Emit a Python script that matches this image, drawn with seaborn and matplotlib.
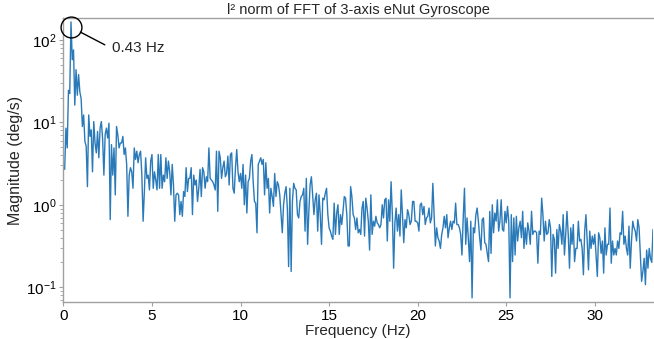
import numpy as np
import pandas as pd
import matplotlib
matplotlib.use("Agg")
import matplotlib.pyplot as plt
import seaborn as sns

# ---------------- data ----------------
FREQ_STEP_HZ = 1 / 14          # FFT bin spacing
# log10 of magnitude (deg/s), per frequency band, bin by bin
log_mag_0_to_6hz = [
    0.43, 0.93, 0.69, 1.39, 1.35, 2.22, 1.76, 1.88, 1.21, 1.64,
    1.33, 1.58, 1.37, 1.29, 0.95, 1.09, 0.77, 0.71, 0.22, 1.09,
    0.83, 0.91, 0.40, 1.01, 0.75, 0.63, 0.89, 0.57, 0.93, 1.01,
    0.80, 0.36, 0.85, 0.93, 0.81, 0.99, -0.18, 0.73, 0.36, 0.69,
    0.12, 0.95, 0.85, 0.69, 0.75, 0.75, 0.83, 0.61, 0.69, 0.49,
    -0.14, 0.36, 0.45, 0.40, 0.20, 0.69, 0.55, 0.65, 0.51, 0.61,
    0.65, 0.36, -0.20, 0.16, 0.57, 0.32, 0.36, 0.18, 0.53, 0.61,
    0.20, 0.40, 0.30, 0.18, 0.61, 0.20, 0.61, 0.20, 0.36, 0.28,
    0.57, 0.32, 0.53, 0.40, 0.12, 0.49, 0.24, -0.20, 0.12, 0.14,
    0.12, -0.12,
]
log_mag_6_to_13hz = [
    0.04, -0.14, 0.16, 0.10, 0.45, 0.16, 0.32, 0.32, 0.45, -0.12,
    0.36, 0.24, 0.30, 0.04, 0.20, 0.43, 0.10, 0.45, 0.40, 0.20,
    0.34, 0.28, 0.69, 0.32, 0.30, 0.28, 0.24, 0.18, 0.65, -0.08,
    0.65, 0.57, 0.32, 0.45, 0.53, 0.34, 0.38, 0.59, 0.24, 0.61,
    0.63, 0.20, 0.14, 0.45, 0.67, 0.40, 0.28, 0.38, 0.20, 0.49,
    0.00, 0.36, -0.10, 0.28, 0.32, 0.53, 0.61, 0.28, 0.04, 0.02,
    -0.34, 0.49, 0.53, 0.57, 0.49, 0.55, 0.12, 0.51, 0.20, 0.32,
    -0.10, 0.20, 0.10, -0.02, 0.38, 0.10, 0.28, 0.24, 0.12, -0.12,
    -0.34, 0.00, 0.14, 0.22, -0.04, -0.75, 0.20, -0.81, 0.04, 0.26,
    0.20, 0.18, -0.12,
]
log_mag_13_to_20hz = [
    -0.16, 0.04, 0.10, 0.12, 0.20, -0.32, 0.32, -0.48, -0.08, 0.24,
    0.34, 0.12, -0.12, 0.06, 0.14, -0.32, 0.12, -0.12, -0.48, 0.08,
    0.06, 0.14, 0.20, -0.12, -0.28, -0.32, -0.38, -0.42, 0.02, -0.36,
    -0.10, 0.00, -0.36, -0.12, -0.24, -0.08, 0.10, 0.08, -0.12, -0.50,
    -0.50, 0.22, 0.10, -0.12, -0.16, -0.30, -0.16, -0.34, -0.30, -0.36,
    -0.04, 0.04, -0.38, 0.08, -0.04, -0.20, -0.55, 0.12, -0.36, -0.20,
    -0.26, -0.14, -0.22, -0.24, -0.28, -0.24, 0.00, -0.16, 0.06, 0.08,
    -0.44, 0.06, -0.20, 0.28, -0.12, -0.77, -0.22, -0.04, -0.32, -0.12,
    -0.38, 0.18, -0.12, -0.46, -0.18, -0.28, -0.06, -0.12, -0.24, -0.20,
    0.04, 0.04, -0.20,
]
log_mag_20_to_26hz = [
    -0.20, -0.22, -0.32, 0.00, 0.02, -0.12, -0.02, -0.24, -0.16, -0.14,
    -0.04, -0.22, -0.16, 0.26, -0.12, -0.50, -0.28, -0.40, -0.44, -0.53,
    -0.36, -0.28, -0.14, -0.28, -0.12, -0.40, -0.28, -0.20, -0.30, -0.20,
    -0.22, 0.02, -0.24, -0.24, -0.28, -0.36, -0.61, -0.16, 0.20, -0.48,
    -0.16, -0.40, -0.69, -0.20, -1.13, -0.28, -0.34, -0.12, -0.04, -0.20,
    -0.40, -0.55, -0.18, -0.16, -0.46, -0.48, -0.59, -0.69, -0.08, -0.59,
    0.00, -0.34, -0.10, -0.20, 0.06, -0.32, -0.20, 0.06, -0.30, -0.32,
    -0.08, -0.22, -0.02, -0.20, -1.13, -0.12, -0.69, -0.16, -0.61, -0.14,
    -0.44, -0.28, -0.20, -0.40, -0.08, -0.53, -0.28, -0.48, -0.22, -0.32,
    -0.48, -0.08, -0.36, -0.32,
]
log_mag_26_to_33hz = [
    -0.32, -0.34, -0.71, -0.32, -0.36, 0.08, -0.12, -0.44, -0.20, -0.36,
    -0.34, -0.18, -0.28, -0.87, -0.36, -0.42, -0.83, -0.30, -0.53, -0.24,
    -0.32, -0.48, -0.12, -0.61, -0.36, -0.08, -0.36, -0.77, -0.28, -0.48,
    -0.24, -0.69, -0.53, -0.53, -0.20, -0.44, -0.42, -0.53, -0.85, -0.32,
    -0.12, -0.44, -0.79, -0.32, -0.53, -0.38, -0.48, -0.36, -0.61, -0.87,
    -0.34, -0.40, -0.59, -0.44, -0.83, -0.28, -0.61, -0.48, -0.48, -0.04,
    -0.71, -0.44, -0.61, -0.53, -0.61, -0.44, -0.53, -0.34, -0.36, -0.08,
    -0.48, -0.38, -0.53, -0.61, -0.26, -0.77, -0.44, -0.20, -0.28, -0.32,
    -0.44, -0.18, -0.28, -0.61, -0.93, -0.81, -0.65, -0.97, -0.55, -0.77,
    -0.53, -0.65, -0.70, -0.30,
]
x_ticks = [0, 5, 10, 15, 20, 25, 30]
title = "l² norm of FFT of 3-axis eNut Gyroscope"
x_label = "Frequency (Hz)"
y_label = "Magnitude (deg/s)"

log_mag = np.array(log_mag_0_to_6hz + log_mag_6_to_13hz + log_mag_13_to_20hz
                   + log_mag_20_to_26hz + log_mag_26_to_33hz)
magnitude = 10.0 ** log_mag
freq = np.arange(1, len(magnitude) + 1) * FREQ_STEP_HZ
df = pd.DataFrame({"freq": freq, "mag": magnitude})

# ---------------- plotting ----------------
sns.set_theme(style="ticks")
plt.rcParams["font.family"] = ["Liberation Sans", "DejaVu Sans"]
plt.rcParams["mathtext.default"] = "regular"

W, H = 654, 339
fig = plt.figure(figsize=(W / 100, H / 100), dpi=100)
fig.patch.set_facecolor("white")
ax = fig.add_axes([63.4 / W, 1 - 302 / H, (653 - 63.4) / W, (302 - 18) / H])

sns.lineplot(data=df, x="freq", y="mag", ax=ax, color="#2a7ab9",
             linewidth=1.0, estimator=None)
ax.set_yscale("log")
ax.set_xlim(0, freq[-1])
ax.set_ylim(0.066, 185)
ax.set_xticks(x_ticks)
ax.set_xticklabels([str(t) for t in x_ticks])

spine_col = "#a0a0a0"
for s in ["left", "top", "bottom"]:
    ax.spines[s].set_color(spine_col)
    ax.spines[s].set_linewidth(1.0)
ax.spines["right"].set_visible(False)
ax.tick_params(which="major", colors=spine_col, labelcolor="black",
               labelsize=11, length=3, width=0.8, pad=2)
ax.tick_params(which="minor", colors=spine_col, length=2, width=0.6)
ax.tick_params(axis="x", which="minor", bottom=False)

ax.set_title(title, fontsize=10.5, pad=3)
ax.set_xlabel(x_label, fontsize=11, labelpad=1)
ax.set_ylabel(y_label, fontsize=11.5, labelpad=2)

# peak annotation
i_pk = int(np.argmax(magnitude))
pk_f, pk_m = freq[i_pk], magnitude[i_pk]
circ_y = pk_m / 1.16
ax.plot([pk_f], [circ_y], marker="o", ms=15, mfc="none", mec="black",
        mew=1.0, clip_on=False, zorder=5)
ax.annotate(f"{pk_f:.2f} Hz", xy=(pk_f, circ_y), xytext=(2.73, 79),
            textcoords="data", ha="left", va="center", fontsize=11,
            arrowprops=dict(arrowstyle="-", color="black", lw=1.0,
                            shrinkA=3, shrinkB=7.6, relpos=(0, 0.5)))

fig.savefig("out.png", dpi=100, facecolor="white")
